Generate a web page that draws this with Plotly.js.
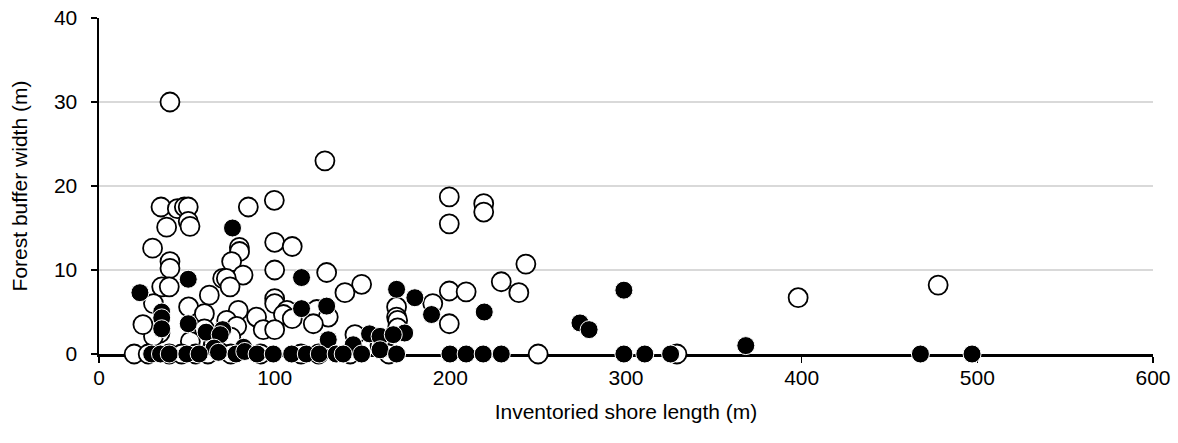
<!DOCTYPE html>
<html>
<head>
<meta charset="utf-8">
<script src="https://cdn.plot.ly/plotly-3.0.1.min.js"></script>
<style>html,body{margin:0;padding:0;background:#fff;}#chart{width:1178px;height:443px;}</style>
</head>
<body>
<div id="chart"></div>
<script>
// Open circles
var openX = [20,40.4,128.6,99.8,35.3,44.6,48.6,50.8,38.5,50.8,51.8,85,199.4,219,219,199.4,100,110,30.5,79.9,80,40.4,75.5,243,40.4,100,129.6,82,70.4,72.5,229,149.5,477.7,35.7,40,74.6,140,199.4,209,239,62.8,398,100,100,31,190,51,79.3,169.4,107,124,60,105,89.7,130.5,110,72.7,169.4,170,199.4,122,78.4,93.5,100,60,34.7,31,52,75,145.7,170,65,160,25,28,40,47,55,62,75,92,115,125,143,165,250,329];
var openY = [0,30,23,18.3,17.5,17.3,17.5,17.5,15.1,15.8,15.2,17.5,18.7,17.9,16.9,15.5,13.3,12.8,12.6,12.7,12.2,11,11,10.7,10.2,10,9.7,9.4,9,9,8.6,8.3,8.2,8,8,8,7.3,7.5,7.4,7.3,7,6.7,6.6,6,6,6,5.6,5.2,5.6,5.2,5.3,4.8,4.7,4.4,4.4,4.2,4,4.4,4,3.6,3.6,3.3,2.9,2.9,3,2.5,2.1,1.5,2,2.3,3.1,1,1,3.5,0,0,0,0,0,0,0,0,0,0,0,0,0,0];
// Filled circles
var filledX = [76,23.3,50.8,115.3,35.7,35.7,35.7,50.8,61,70.4,69,115.3,129.6,169.4,179.8,174,189.3,219.3,298.8,273.8,279,368.2,130.5,144.7,154,160,167.5,65.5,82.3,160,30,35,40,50,57,68,78,83,90,99.2,109.7,118,125.4,135,139,149.5,169.4,199.8,209,218.7,229,298.8,310.7,325.4,467.6,497];
var filledY = [15,7.3,8.9,9.1,5,4.3,3,3.6,2.6,2.9,2.3,5.4,5.7,7.7,6.7,2.5,4.7,5,7.6,3.7,2.9,1,1.7,1.1,2.4,2.1,2.3,0.7,0.8,0.5,0,0,0,0,0,0.2,0,0.3,0,0,0,0,0,0,0,0,0,0,0,0,0,0,0,0,0,0];
var xTicks = [0,100,200,300,400,500,600];
var yTicks = [0,10,20,30,40];

var fontFam = 'Liberation Sans, Arial, sans-serif';
var traces = [
  {x: openX, y: openY, type: 'scatter', mode: 'markers', cliponaxis: false,
   marker: {symbol: 'circle', size: 19, color: '#ffffff', line: {color: '#000000', width: 1.8}}, hoverinfo: 'x+y'},
  {x: filledX, y: filledY, type: 'scatter', mode: 'markers', cliponaxis: false,
   marker: {symbol: 'circle', size: 18, color: '#000000', line: {color: '#ffffff', width: 1}}, hoverinfo: 'x+y'}
];
var layout = {
  width: 1178, height: 443,
  margin: {l: 99, r: 25, t: 18, b: 89},
  paper_bgcolor: '#ffffff', plot_bgcolor: '#ffffff',
  showlegend: false,
  font: {family: fontFam, size: 21, color: '#000000'},
  xaxis: {
    range: [0, 600], tickvals: xTicks, ticktext: xTicks.map(String),
    showgrid: false, zeroline: false,
    showline: true, linecolor: '#000000', linewidth: 2.5, layer: 'below traces',
    ticks: 'outside', ticklen: 6, tickwidth: 1.5, tickcolor: '#000000',
    ticklabelstandoff: -3,
    tickfont: {family: fontFam, size: 21, color: '#000000'},
    title: {text: 'Inventoried shore length (m)', font: {family: fontFam, size: 21, color: '#000000'}, standoff: 17}
  },
  yaxis: {
    range: [0, 40], tickvals: yTicks, ticktext: yTicks.map(String),
    showgrid: true, gridcolor: '#d9d9d9', gridwidth: 1.5, zeroline: false,
    showline: true, linecolor: '#000000', linewidth: 2.5, layer: 'below traces',
    ticks: 'outside', ticklen: 6, tickwidth: 1.5, tickcolor: '#000000',
    ticklabelstandoff: 9,
    tickfont: {family: fontFam, size: 21, color: '#000000'},
    title: {text: 'Forest buffer width (m)', font: {family: fontFam, size: 21, color: '#000000'}, standoff: 21}
  }
};
Plotly.newPlot('chart', traces, layout, {displayModeBar: false, staticPlot: true});
</script>
</body>
</html>
